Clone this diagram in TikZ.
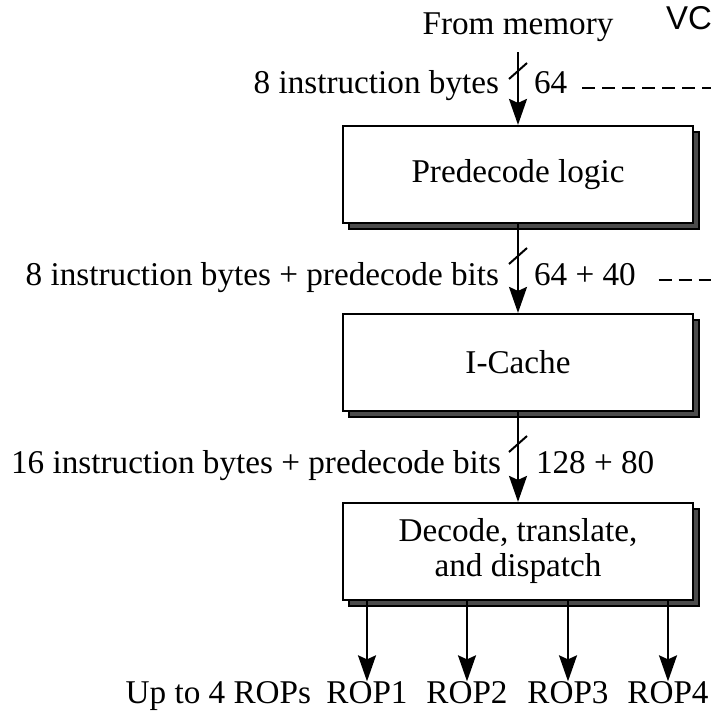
\documentclass[tikz,border=0pt]{standalone}
\usepackage{fontspec}
\setmainfont{Liberation Serif}
\newfontfamily\vcfont{Liberation Sans}
\usetikzlibrary{arrows.meta,positioning,shadows}
\tikzset{font={\fontsize{16.6pt}{17.5pt}\selectfont}}

\begin{document}
\begin{tikzpicture}[->,>={Stealth[length=13pt,width=9pt,inset=2pt]},line width=1pt,
                    x=0.5pt,y=-0.5pt,
                    block node/.style={rectangle,draw,fill=white,align=center,
                      line width=1.1pt,minimum width=175pt,minimum height=48.5pt,
                      drop shadow={shadow xshift=3pt,shadow yshift=-3pt,
                                   opacity=1,fill=black!70,draw=black}},
                    text node/.style={text height=0.7em,text depth=0.22em},
                    bus label/.style={text node,inner sep=0pt},
                    bus slash/.style={-,line width=1pt},
                    bus dash/.style={-,line width=1.1pt,dash pattern=on 6.5pt off 3.5pt}]
  \useasboundingbox (0,0) rectangle (711,712);

  \node[text node,anchor=base] (mem) at (518,34) {From memory};
  \node[anchor=base west,inner sep=0pt,
        font=\vcfont\fontsize{16.5pt}{18pt}\selectfont] (vc) at (665,29) {VC};
  \node[block node] (pre) at (518,174.5) {Predecode logic};
  \node[block node] (icache) at (518,362.5) {I-Cache};
  \node[block node] (dec) at (518,551.5) {Decode, translate,\\ and dispatch};

  % bus labels
  \node[bus label,anchor=base east] (in1) at (500,93) {8 instruction bytes};
  \node[bus label,anchor=base west] (w1) at (533,93) {64};
  \node[bus label,anchor=base east] (in2) at (500,285) {8 instruction bytes + predecode bits};
  \node[bus label,anchor=base west] (w2) at (533,285) {64 + 40};
  \node[bus label,anchor=base east] (in3) at (502,473) {16 instruction bytes + predecode bits};
  \node[bus label,anchor=base west] (w3) at (535,473) {128 + 80};
  \coordinate (e1) at (715,85);
  \coordinate (e2) at (715,277);

  % outputs
  \node[text node,anchor=base] (r1) at (367,703) {ROP1};
  \node[text node,anchor=base] (r2) at (467,703) {ROP2};
  \node[text node,anchor=base] (r3) at (568,703) {ROP3};
  \node[text node,anchor=base] (r4) at (668,703) {ROP4};
  \node[text node] (ups) [left=0pt of r1] {Up to 4 ROPs};

  \draw[shorten <=3pt] (mem) -- (pre);
  \draw (pre) -- (icache);
  \draw (icache) -- (dec);
  \draw (dec.south -| r1) -- (r1);
  \draw (dec.south -| r2) -- (r2);
  \draw (dec.south -| r3) -- (r3);
  \draw (dec.south -| r4) -- (r4);

  % bus width slashes
  \coordinate (s1) at (518,71);
  \coordinate (s2) at (518,256);
  \coordinate (s3) at (518,444);
  \draw[bus slash] ([shift={(-9,8)}]s1) -- ([shift={(9,-8)}]s1);
  \draw[bus slash] ([shift={(-9,8)}]s2) -- ([shift={(9,-8)}]s2);
  \draw[bus slash] ([shift={(-9,8)}]s3) -- ([shift={(9,-8)}]s3);

  \draw[bus dash] ([xshift=7pt]w1.east) -- (w1.east -| e1);
  \draw[bus dash] ([xshift=11pt]w2.east) -- (w2.east -| e2);
\end{tikzpicture}
\end{document}
